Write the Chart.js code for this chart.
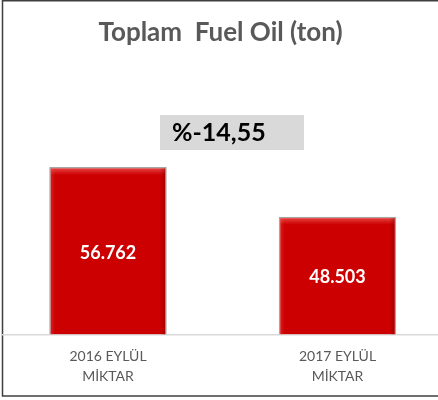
<!DOCTYPE html>
<html>
<head>
<meta charset="utf-8">
<script src="https://cdn.jsdelivr.net/npm/chart.js@4"></script>
<style>
html,body{margin:0;padding:0;background:#fff;}
#wrap{width:438px;height:400px;position:relative;}
</style>
</head>
<body>
<div id="wrap"><canvas id="c" width="438" height="400"></canvas></div>
<script>
// ---- data ----
const chartTitle = 'Toplam  Fuel Oil (ton)';
const categories = [['2016 EYLÜL', 'MİKTAR'], ['2017 EYLÜL', 'MİKTAR']];
const values = [56762, 48503];
const yMin = 28900;
const yMax = 75400;

function fmtTR(n) {
  return String(n).replace(/\B(?=(\d{3})+(?!\d))/g, '.');
}
const pct = (values[1] - values[0]) / values[0] * 100;
const pctText = '%' + pct.toFixed(2).replace('.', ',');

const points = values.map((v, i) => ({ x: i, y: v }));

const framePlugin = {
  id: 'frame',
  beforeDraw(chart) {
    const ctx = chart.ctx;
    ctx.save();
    ctx.fillStyle = '#ffffff';
    ctx.fillRect(0, 0, chart.width, chart.height);
    ctx.strokeStyle = '#3f3f3f';
    ctx.lineWidth = 1.5;
    ctx.beginPath();
    ctx.moveTo(chart.width + 5, 0.75);
    ctx.lineTo(2.5, 0.75);
    ctx.lineTo(2.5, 396);
    ctx.lineTo(chart.width + 5, 396);
    ctx.stroke();
    // percent change box
    ctx.fillStyle = '#d9d9d9';
    ctx.fillRect(160, 115, 144, 35);
    ctx.fillStyle = '#000000';
    ctx.font = 'bold 25px Lato';
    ctx.textBaseline = 'middle';
    ctx.textAlign = 'left';
    ctx.fillText(pctText, 172, 133);
    ctx.restore();
  },
  afterDatasetsDraw(chart) {
    const ctx = chart.ctx;
    const meta = chart.getDatasetMeta(0);
    ctx.save();
    meta.data.forEach((bar, i) => {
      const left = bar.x - bar.width / 2;
      const right = bar.x + bar.width / 2;
      const top = bar.y;
      const bottom = bar.base;
      // bevel highlights
      let g = ctx.createLinearGradient(0, top + 1, 0, top + 8);
      g.addColorStop(0, 'rgba(255,120,120,0.55)');
      g.addColorStop(1, 'rgba(255,120,120,0)');
      ctx.fillStyle = g;
      ctx.fillRect(left + 1.5, top + 1.5, bar.width - 3, 7);
      g = ctx.createLinearGradient(right - 7, 0, right - 1, 0);
      g.addColorStop(0, 'rgba(120,0,0,0)');
      g.addColorStop(1, 'rgba(120,0,0,0.45)');
      ctx.fillStyle = g;
      ctx.fillRect(right - 7, top + 1.5, 5.5, bottom - top - 1.5);
      g = ctx.createLinearGradient(left + 1, 0, left + 6, 0);
      g.addColorStop(0, 'rgba(255,90,90,0.35)');
      g.addColorStop(1, 'rgba(255,90,90,0)');
      ctx.fillStyle = g;
      ctx.fillRect(left + 1.5, top + 1.5, 5, bottom - top - 1.5);
      // value label
      ctx.fillStyle = '#ffffff';
      ctx.font = 'bold 18px Lato';
      ctx.textAlign = 'center';
      ctx.textBaseline = 'middle';
      ctx.fillText(fmtTR(values[i]), bar.x, (top + bottom) / 2 + 2);
    });
    ctx.restore();
  }
};

new Chart(document.getElementById('c'), {
  type: 'bar',
  data: {
    datasets: [{
      data: points,
      base: yMin,
      backgroundColor: '#cc0000',
      borderColor: '#a6a6a6',
      borderWidth: 1.5,
      barPercentage: 0.512,
      categoryPercentage: 1
    }]
  },
  options: {
    responsive: false,
    animation: false,
    devicePixelRatio: 1,
    layout: { padding: { left: 3, right: 0, top: 0, bottom: 0 } },
    plugins: {
      legend: { display: false },
      tooltip: { enabled: false },
      title: {
        display: true,
        text: chartTitle,
        color: '#595959',
        font: { family: 'Lato', size: 26, weight: 'bold', lineHeight: 1.2 },
        padding: { top: 17, bottom: 6.8 }
      }
    },
    scales: {
      x: {
        type: 'linear',
        offset: false,
        min: -0.4575,
        max: 1.4379,
        grid: { display: false, drawTicks: false },
        border: { display: true, color: '#d9d9d9', width: 1.5 },
        afterBuildTicks(axis) { axis.ticks = categories.map((c, i) => ({ value: i })); },
        afterFit(axis) { axis.height = 65.5; },
        ticks: {
          padding: 12,
          color: '#595959',
          font: { family: 'Lato', size: 14, lineHeight: 1.45 },
          maxRotation: 0,
          autoSkip: false,
          callback: (v) => categories[v]
        }
      },
      y: {
        display: false,
        min: yMin,
        max: yMax
      }
    }
  },
  plugins: [framePlugin]
});
</script>
</body>
</html>
